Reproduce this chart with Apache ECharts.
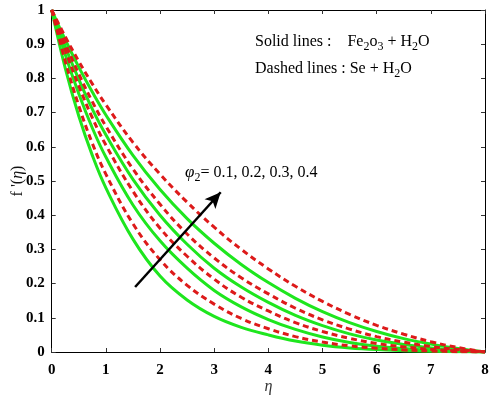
<!DOCTYPE html>
<html>
<head>
<meta charset="utf-8">
<script src="https://cdn.jsdelivr.net/npm/echarts@6/dist/echarts.min.js"></script>
<style>html,body{margin:0;padding:0;background:#fff}#c{width:494px;height:398px}</style>
</head>
<body>
<div id="c"></div>
<script>
// eta sample points
const eta = [0, 0.25, 0.5, 0.75, 1, 1.5, 2, 2.5, 3, 3.5, 4, 4.5, 5, 5.5, 6, 6.5, 7, 7.5, 8];
// Solid lines: Fe2O3 + H2O, phi2 = 0.1 .. 0.4
const solid01 = [1, 0.83, 0.69, 0.575, 0.48, 0.33, 0.222, 0.152, 0.104, 0.072, 0.05, 0.032, 0.02, 0.012, 0.007, 0.004, 0.002, 0.001, 0];
const solid02 = [1, 0.87, 0.755, 0.655, 0.57, 0.43, 0.325, 0.245, 0.18, 0.132, 0.095, 0.066, 0.044, 0.028, 0.017, 0.01, 0.005, 0.002, 0];
const solid03 = [1, 0.893, 0.797, 0.71, 0.635, 0.505, 0.4, 0.315, 0.245, 0.19, 0.145, 0.107, 0.077, 0.053, 0.035, 0.022, 0.012, 0.005, 0];
const solid04 = [1, 0.913, 0.833, 0.76, 0.693, 0.575, 0.475, 0.39, 0.318, 0.256, 0.203, 0.157, 0.118, 0.086, 0.06, 0.039, 0.023, 0.01, 0];
// Dashed lines: Se + H2O, phi2 = 0.1 .. 0.4
const dashed01 = [1, 0.85, 0.72, 0.61, 0.52, 0.375, 0.27, 0.195, 0.14, 0.098, 0.068, 0.045, 0.029, 0.018, 0.011, 0.006, 0.003, 0.001, 0];
const dashed02 = [1, 0.883, 0.778, 0.685, 0.605, 0.47, 0.362, 0.28, 0.213, 0.16, 0.12, 0.086, 0.06, 0.04, 0.025, 0.015, 0.008, 0.003, 0];
const dashed03 = [1, 0.903, 0.813, 0.732, 0.66, 0.535, 0.432, 0.345, 0.275, 0.217, 0.17, 0.128, 0.094, 0.067, 0.045, 0.029, 0.016, 0.007, 0];
const dashed04 = [1, 0.922, 0.85, 0.784, 0.723, 0.613, 0.52, 0.438, 0.365, 0.3, 0.243, 0.192, 0.148, 0.11, 0.078, 0.052, 0.03, 0.013, 0];
// arrow annotation endpoints (eta, f')
const arrowFrom = [1.54, 0.19];
const arrowTo = [3.12, 0.467];
const xTicks = [0, 1, 2, 3, 4, 5, 6, 7, 8];
const yTicks = [0, 0.1, 0.2, 0.3, 0.4, 0.5, 0.6, 0.7, 0.8, 0.9, 1];

const FONT = 'Liberation Serif';
const GREEN = '#1ee61e';
const RED = '#dd1a1a';

function pairs(ys) { return eta.map((x, i) => [x, ys[i]]); }

const solids = [solid01, solid02, solid03, solid04];
const dashes = [dashed01, dashed02, dashed03, dashed04];

const series = [];
solids.forEach((s, i) => series.push({
  type: 'line', name: 'solid' + i, data: pairs(s), smooth: 0.4, symbol: 'none',
  lineStyle: { color: GREEN, width: 3 }, z: 2, silent: true
}));
dashes.forEach((s, i) => series.push({
  type: 'line', name: 'dashed' + i, data: pairs(s), smooth: 0.4, symbol: 'none',
  lineStyle: { color: RED, width: 3, type: [6, 4] }, z: 3, silent: true
}));
series.push({
  type: 'line', data: [], silent: true,
  markLine: {
    silent: true, animation: false,
    symbol: ['none', 'arrow'], symbolSize: [11, 16],
    label: { show: false },
    lineStyle: { color: '#000', width: 2.5, type: 'solid' },
    data: [[{ coord: arrowFrom }, { coord: arrowTo }]]
  }
});

const axisCommon = {
  type: 'value', min: 0, splitLine: { show: false },
  axisLine: { show: true, onZero: false, lineStyle: { color: '#000', width: 1 } },
  axisTick: { show: true, inside: true, length: 4, lineStyle: { color: '#333' } }
};

const chart = echarts.init(document.getElementById('c'), null, { renderer: 'canvas' });
chart.setOption({
  animation: false,
  backgroundColor: '#fff',
  grid: { left: 51.7, right: 9, top: 10, bottom: 46, containLabel: false, outerBoundsMode: 'none' },
  xAxis: [
    Object.assign({}, axisCommon, {
      max: 8, interval: 1, position: 'bottom',
      axisLabel: { color: '#000', fontFamily: FONT, fontWeight: 'bold', fontSize: 15, margin: 11 },
      name: 'η', nameLocation: 'middle', nameGap: 27, nameMoveOverlap: false,
      nameTextStyle: { fontFamily: FONT, fontStyle: 'italic', fontSize: 16, color: '#333' }
    }),
    Object.assign({}, axisCommon, { max: 8, interval: 1, position: 'top', axisLabel: { show: false } })
  ],
  yAxis: [
    Object.assign({}, axisCommon, {
      max: 1, interval: 0.1, position: 'left',
      axisLabel: { color: '#000', fontFamily: FONT, fontWeight: 'bold', fontSize: 15, margin: 7,
        formatter: v => (Math.round(v * 10) / 10).toString() },
      name: "f '({e|η})", nameLocation: 'middle', nameGap: 26, nameRotate: 90, nameMoveOverlap: false,
      nameTextStyle: { fontFamily: FONT, fontSize: 16, color: '#111',
        rich: { e: { fontFamily: FONT, fontStyle: 'italic', fontSize: 16, color: '#111' } } }
    }),
    Object.assign({}, axisCommon, { max: 1, interval: 0.1, position: 'right', axisLabel: { show: false } })
  ],
  series: series,
  graphic: [
    {
      type: 'text', left: 255, top: 34, silent: true,
      style: {
        text: '{n|Solid lines :    Fe}{s|2}{n|o}{s|3}{n| + H}{s|2}{n|O}',
        rich: {
          n: { fontFamily: FONT, fontSize: 16, color: '#000', lineHeight: 22, verticalAlign: 'middle' },
          s: { fontFamily: FONT, fontSize: 12, color: '#000', lineHeight: 12, verticalAlign: 'bottom' }
        }
      }
    },
    {
      type: 'text', left: 255, top: 61, silent: true,
      style: {
        text: '{n|Dashed lines : Se + H}{s|2}{n|O}',
        rich: {
          n: { fontFamily: FONT, fontSize: 16, color: '#000', lineHeight: 22, verticalAlign: 'middle' },
          s: { fontFamily: FONT, fontSize: 12, color: '#000', lineHeight: 12, verticalAlign: 'bottom' }
        }
      }
    },
    {
      type: 'text', left: 185, top: 164, silent: true,
      style: {
        text: '{p|φ}{s|2}{n|= 0.1, 0.2, 0.3, 0.4}',
        rich: {
          p: { fontFamily: FONT, fontStyle: 'italic', fontSize: 17, color: '#000', lineHeight: 22, verticalAlign: 'middle' },
          n: { fontFamily: FONT, fontSize: 16, color: '#000', lineHeight: 22, verticalAlign: 'middle' },
          s: { fontFamily: FONT, fontSize: 12, color: '#000', lineHeight: 12, verticalAlign: 'bottom' }
        }
      }
    }
  ]
});
</script>
</body>
</html>
